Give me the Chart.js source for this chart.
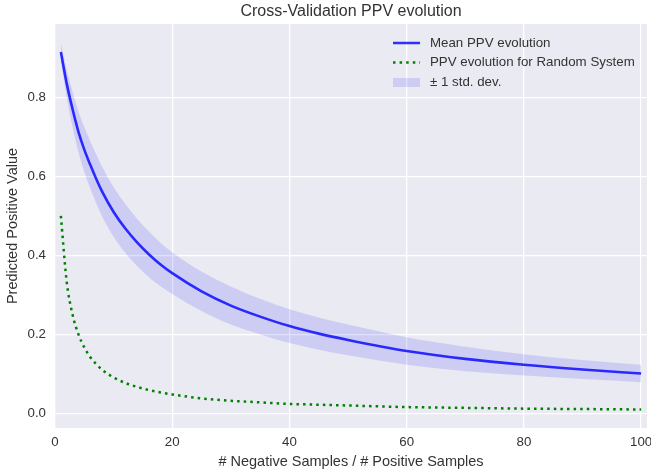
<!DOCTYPE html>
<html>
<head>
<meta charset="utf-8">
<script src="https://cdn.jsdelivr.net/npm/chart.js@4"></script>
<style>
  html, body { margin: 0; padding: 0; background: #fff; overflow: hidden; }
  #wrap { width: 651px; height: 473px; }
</style>
</head>
<body>
<div id="wrap"><canvas id="ppvChart" width="651" height="473"></canvas></div>
<script>
// ratio values (# negative / # positive)
var ratios = [1, 2, 3, 4, 5, 6, 7, 8, 10, 12, 14, 16, 18, 20, 25, 30, 35, 40, 45, 50, 60, 70, 80, 90, 100];
var meanPPV = [0.915, 0.835, 0.77, 0.713, 0.668, 0.63, 0.595, 0.563, 0.51, 0.468, 0.433, 0.403, 0.377, 0.355,
               0.309, 0.273, 0.245, 0.221, 0.202, 0.186, 0.158, 0.138, 0.123, 0.111, 0.101];
var stdPPV = [0.022, 0.035, 0.045, 0.052, 0.057, 0.06, 0.062, 0.063, 0.063, 0.062, 0.06, 0.058, 0.055, 0.053,
              0.05, 0.048, 0.045, 0.043, 0.041, 0.039, 0.035, 0.031, 0.027, 0.024, 0.022];
var randomPPV = [0.5, 0.333, 0.25, 0.2, 0.167, 0.143, 0.125, 0.111, 0.091, 0.077, 0.067, 0.059, 0.053, 0.048,
                 0.038, 0.032, 0.028, 0.024, 0.022, 0.020, 0.016, 0.014, 0.012, 0.011, 0.0099];
var xTicks = [0, 20, 40, 60, 80, 100];
var yTicks = [0.0, 0.2, 0.4, 0.6, 0.8];

var FONT = "'Liberation Sans', Arial, sans-serif";
var TEXT = '#333333';
var BLUE = 'rgba(0, 0, 255, 0.8)';
var BAND = 'rgba(0, 0, 255, 0.12)';
var GREEN = '#008000';

function pts(ys) {
    return ratios.map(function(x, i) { return { x: x, y: ys[i] }; });
}
var upper = meanPPV.map(function(m, i) { return m + stdPPV[i]; });
var lower = meanPPV.map(function(m, i) { return m - stdPPV[i]; });

var bgPlugin = {
    id: 'bg',
    beforeDraw: function(chart) {
        var a = chart.chartArea, ctx = chart.ctx;
        ctx.save();
        ctx.fillStyle = '#EAEAF2';
        ctx.fillRect(a.left, a.top, a.right - a.left, a.bottom - a.top);
        ctx.restore();
    }
};

var legendPlugin = {
    id: 'mplLegend',
    afterDraw: function(chart) {
        var a = chart.chartArea, ctx = chart.ctx;
        ctx.save();
        // title
        ctx.fillStyle = TEXT;
        ctx.font = '16px ' + FONT;
        ctx.textAlign = 'center';
        ctx.textBaseline = 'middle';
        ctx.fillText('Cross-Validation PPV evolution', (a.left + a.right) / 2, 12);

        var x0 = a.left + 338, x1 = a.left + 365, tx = a.left + 375;
        var rows = [a.top + 19, a.top + 38.5, a.top + 58.5];
        ctx.lineWidth = 2.5;
        ctx.strokeStyle = BLUE;
        ctx.beginPath(); ctx.moveTo(x0, rows[0]); ctx.lineTo(x1, rows[0]); ctx.stroke();
        ctx.strokeStyle = GREEN;
        ctx.setLineDash([2.5, 4.1]);
        ctx.beginPath(); ctx.moveTo(x0, rows[1]); ctx.lineTo(x1, rows[1]); ctx.stroke();
        ctx.setLineDash([]);
        ctx.fillStyle = BAND;
        ctx.fillRect(x0, rows[2] - 4.5, x1 - x0, 9);

        ctx.fillStyle = TEXT;
        ctx.font = '13.3px ' + FONT;
        ctx.textAlign = 'left';
        ctx.fillText('Mean PPV evolution', tx, rows[0]);
        ctx.fillText('PPV evolution for Random System', tx, rows[1]);
        ctx.fillText('\u00b1 1 std. dev.', tx, rows[2]);
        ctx.restore();
    }
};

new Chart(document.getElementById('ppvChart'), {
    type: 'line',
    data: {
        datasets: [{
            label: 'upper',
            data: pts(upper),
            borderWidth: 0,
            pointRadius: 0,
            backgroundColor: BAND,
            fill: '+1',
            cubicInterpolationMode: 'monotone',
            order: 3
        }, {
            label: 'lower',
            data: pts(lower),
            borderWidth: 0,
            pointRadius: 0,
            fill: false,
            cubicInterpolationMode: 'monotone',
            order: 4
        }, {
            label: 'Mean PPV evolution',
            data: pts(meanPPV),
            borderColor: BLUE,
            borderWidth: 2.6,
            pointRadius: 0,
            fill: false,
            cubicInterpolationMode: 'monotone',
            order: 0
        }, {
            label: 'PPV evolution for Random System',
            data: pts(randomPPV),
            borderColor: GREEN,
            borderWidth: 2.5,
            borderDash: [2.5, 4.1],
            borderCapStyle: 'butt',
            pointRadius: 0,
            fill: false,
            cubicInterpolationMode: 'monotone',
            order: 1
        }]
    },
    options: {
        responsive: false,
        animation: false,
        layout: { padding: { left: 0, top: 24, right: 4, bottom: 0 } },
        plugins: {
            legend: { display: false },
            title: { display: false },
            tooltip: { enabled: false }
        },
        scales: {
            x: {
                type: 'linear',
                min: 0,
                max: 101,
                border: { display: false },
                grid: { color: '#ffffff', lineWidth: 1.3, drawTicks: false },
                afterBuildTicks: function(s) { s.ticks = xTicks.map(function(v) { return { value: v }; }); },
                ticks: { color: TEXT, font: { family: FONT, size: 13.3 }, padding: 6, maxRotation: 0,
                         callback: function(v) { return String(v); } },
                title: { display: true, text: '# Negative Samples / # Positive Samples', color: TEXT,
                         font: { family: FONT, size: 14.5 }, padding: { top: 0, bottom: 2 } },
                afterFit: function(s) { s.height = 45; s.paddingLeft = 0; s.paddingRight = 0; }
            },
            y: {
                min: -0.037,
                max: 0.986,
                border: { display: false },
                grid: { color: '#ffffff', lineWidth: 1.3, drawTicks: false },
                afterBuildTicks: function(s) { s.ticks = yTicks.map(function(v) { return { value: v }; }); },
                ticks: { color: TEXT, font: { family: FONT, size: 13.3 }, padding: 9,
                         callback: function(v) { return Number(v).toFixed(1); } },
                title: { display: true, text: 'Predicted Positive Value', color: TEXT,
                         font: { family: FONT, size: 14.5 }, padding: { top: 4, bottom: 0 } },
                afterFit: function(s) { s.width = 55; s.paddingTop = 0; s.paddingBottom = 0; }
            }
        }
    },
    plugins: [bgPlugin, legendPlugin]
});
</script>
</body>
</html>
